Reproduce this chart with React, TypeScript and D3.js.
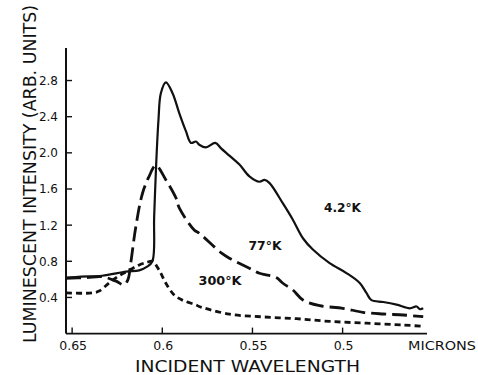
import * as d3 from "d3";

// incident wavelength (microns) and intensity for each temperature
const wl4K = [0.6534, 0.645, 0.6334, 0.6201, 0.6128, 0.6084, 0.6055, 0.6045, 0.6034, 0.6021, 0.6008, 0.598, 0.5943, 0.5906, 0.5869, 0.5841, 0.5813, 0.5795, 0.5758, 0.5706, 0.5674, 0.5628, 0.5572, 0.5517, 0.5461, 0.5433, 0.5405, 0.5331, 0.5276, 0.522, 0.5165, 0.5072, 0.4979, 0.4905, 0.4868, 0.484, 0.4775, 0.4701, 0.4627, 0.459, 0.4571, 0.4553];
const int4K = [0.62, 0.63, 0.64, 0.685, 0.7, 0.74, 0.8, 1.3, 1.87, 2.37, 2.66, 2.78, 2.66, 2.44, 2.24, 2.11, 2.125, 2.09, 2.06, 2.11, 2.05, 1.97, 1.87, 1.74, 1.68, 1.7, 1.665, 1.44, 1.26, 1.055, 0.93, 0.78, 0.67, 0.56, 0.45, 0.37, 0.35, 0.32, 0.28, 0.3, 0.27, 0.28];

const wl77K = [0.6534, 0.642, 0.6334, 0.6256, 0.6212, 0.619, 0.6175, 0.6147, 0.611, 0.6073, 0.6036, 0.598, 0.5924, 0.5906, 0.5823, 0.5795, 0.5671, 0.5628, 0.5517, 0.5461, 0.5424, 0.5368, 0.5331, 0.5276, 0.522, 0.5127, 0.4998, 0.4887, 0.4775, 0.4664, 0.4553];
const int77K = [0.61, 0.62, 0.63, 0.58, 0.54, 0.6, 0.78, 1.18, 1.55, 1.74, 1.86, 1.7, 1.5, 1.39, 1.147, 1.11, 0.89, 0.834, 0.723, 0.668, 0.65, 0.62, 0.557, 0.483, 0.372, 0.309, 0.28, 0.236, 0.217, 0.206, 0.187];

const wl300K = [0.6534, 0.639, 0.6351, 0.6295, 0.624, 0.6184, 0.6128, 0.6084, 0.6055, 0.6017, 0.598, 0.5934, 0.5888, 0.5813, 0.5795, 0.5628, 0.5443, 0.5257, 0.5072, 0.4868, 0.4664, 0.4553];
const int300K = [0.45, 0.45, 0.47, 0.56, 0.64, 0.7, 0.76, 0.79, 0.8, 0.7, 0.557, 0.427, 0.37, 0.317, 0.3, 0.215, 0.185, 0.165, 0.135, 0.115, 0.095, 0.08];

const xTicks = [0.65, 0.6, 0.55, 0.5];
const xTickLabels = ["0.65", "0.6", "0.55", "0.5"];
const yTicks = [0.4, 0.8, 1.2, 1.6, 2.0, 2.4, 2.8];
const yTickLabels = ["0.4", "0.8", "1.2", "1.6", "2.0", "2.4", "2.8"];

const W = 478;
const H = 375;
const left = 66;
const right = 427;
const top = 48;
const bottom = 333.6;

export default function App() {
  const x = d3.scaleLinear().domain([0.6534, 0.4532]).range([left, right]);
  const y = d3.scaleLinear().domain([0, 3.16]).range([bottom, top]);

  const line = d3
    .line<[number, number]>()
    .x((d) => x(d[0]))
    .y((d) => y(d[1]))
    .curve(d3.curveCatmullRom.alpha(0.5));

  const zip = (a: number[], b: number[]) => a.map((v, i) => [v, b[i]] as [number, number]);

  const font = "'DejaVu Sans', sans-serif";
  const ink = "#111";

  return (
    <svg
      width={W}
      height={H}
      style={{ position: "absolute", left: 0, top: 0, background: "#fff" }}
    >
      {/* axes */}
      <line x1={left} x2={left} y1={top} y2={bottom} stroke={ink} strokeWidth={2} />
      <line x1={left} x2={right} y1={bottom} y2={bottom} stroke={ink} strokeWidth={1.8} />

      {yTicks.map((t, i) => (
        <g key={"y" + t}>
          <line x1={left} x2={left + 6} y1={y(t)} y2={y(t)} stroke={ink} strokeWidth={1.4} />
          <text x={58} y={y(t) + 4.5} textAnchor="end" fontSize={12} fontFamily={font} fill={ink}>
            {yTickLabels[i]}
          </text>
        </g>
      ))}

      {xTicks.map((t, i) => (
        <g key={"x" + t}>
          <line x1={x(t)} x2={x(t)} y1={bottom} y2={bottom - 6} stroke={ink} strokeWidth={1.4} />
          <text x={x(t) + 1} y={350} textAnchor="middle" fontSize={12.5} fontFamily={font} fill={ink}>
            {xTickLabels[i]}
          </text>
        </g>
      ))}

      <text x={408} y={349.5} fontSize={12.5} fontFamily={font} fill={ink} textLength={68} lengthAdjust="spacingAndGlyphs">
        MICRONS
      </text>
      <text x={135} y={371.5} fontSize={15.5} fontFamily={font} fill={ink} textLength={225} lengthAdjust="spacingAndGlyphs">
        INCIDENT WAVELENGTH
      </text>
      <text
        transform="translate(36,343) rotate(-90)"
        x={0}
        y={0}
        fontSize={17.5}
        fontFamily={font}
        fill={ink}
        textLength={338}
        lengthAdjust="spacingAndGlyphs"
      >
        LUMINESCENT INTENSITY (ARB. UNITS)
      </text>

      {/* curves */}
      <path d={line(zip(wl300K, int300K)) ?? ""} fill="none" stroke={ink} strokeWidth={2.8} strokeDasharray="6 4" />
      <path d={line(zip(wl77K, int77K)) ?? ""} fill="none" stroke={ink} strokeWidth={2.8} strokeDasharray="15 6" />
      <path d={line(zip(wl4K, int4K)) ?? ""} fill="none" stroke={ink} strokeWidth={2.2} />

      {/* curve labels */}
      <text x={324} y={211.5} fontSize={11.5} fontWeight="bold" fontFamily={font} fill={ink} textLength={37} lengthAdjust="spacingAndGlyphs">
        4.2°K
      </text>
      <text x={248.5} y={250} fontSize={11.5} fontWeight="bold" fontFamily={font} fill={ink} textLength={33} lengthAdjust="spacingAndGlyphs">
        77°K
      </text>
      <text x={198.5} y={285} fontSize={11.5} fontWeight="bold" fontFamily={font} fill={ink} textLength={43} lengthAdjust="spacingAndGlyphs">
        300°K
      </text>
    </svg>
  );
}
